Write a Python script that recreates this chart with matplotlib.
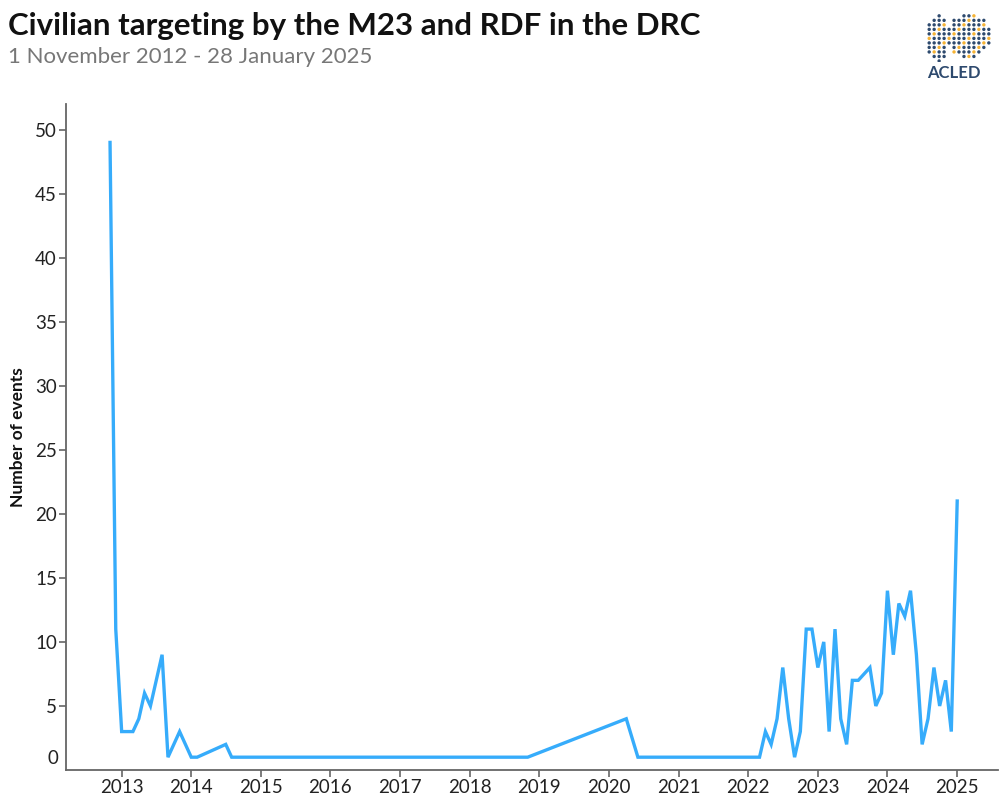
import numpy as np
import pandas as pd
import matplotlib
matplotlib.use("Agg")
import matplotlib.pyplot as plt
import matplotlib.dates as mdates
import matplotlib.transforms as mtransforms

plt.rcParams['font.family'] = ['Lato', 'DejaVu Sans']

# Monthly event counts (only months where the line changes direction)
months = [
    "2012-11", "2012-12", "2013-01", "2013-03", "2013-04", "2013-05", "2013-06",
    "2013-08", "2013-09", "2013-11", "2014-01", "2014-02", "2014-07", "2014-08",
    "2018-11", "2020-04", "2020-06", "2022-03", "2022-04", "2022-05", "2022-06",
    "2022-07", "2022-08", "2022-09", "2022-10", "2022-11", "2022-12", "2023-01",
    "2023-02", "2023-03", "2023-04", "2023-05", "2023-06", "2023-07", "2023-08",
    "2023-10", "2023-11", "2023-12", "2024-01", "2024-02", "2024-03", "2024-04",
    "2024-05", "2024-06", "2024-07", "2024-08", "2024-09", "2024-10", "2024-11",
    "2024-12", "2025-01",
]
events = [
    49, 11, 3, 3, 4, 6, 5,
    9, 1, 3, 1, 1, 2, 1,
    1, 4, 1, 1, 3, 2, 4,
    8, 4, 1, 3, 11, 11, 8,
    10, 3, 11, 4, 2, 7, 7,
    8, 5, 6, 14, 9, 13, 12,
    14, 9, 2, 4, 8, 5, 7,
    3, 21,
]
yticks = list(range(5, 55, 5))

title = "Civilian targeting by the M23 and RDF in the DRC"
subtitle = "1 November 2012 - 28 January 2025"

dates = pd.to_datetime(months)

fig = plt.figure(figsize=(10, 8), dpi=100)
ax = fig.add_axes([66 / 1000, 1 - 770 / 800, (998 - 66) / 1000, (770 - 104) / 800])

ax.plot(dates, events, color="#36acfb", linewidth=2.4, solid_joinstyle="miter")

ax.set_xlim(pd.Timestamp("2012-03-15"), pd.Timestamp("2025-08-03"))
ax.set_ylim(0, 52)

ax.xaxis.set_major_locator(mdates.YearLocator())
ax.xaxis.set_major_formatter(mdates.DateFormatter("%Y"))
ax.set_yticks(yticks)
ax.set_yticklabels([str(v) for v in yticks])

# bottom "0" label sits just above the axis line, without a tick
trans = mtransforms.blended_transform_factory(ax.transAxes, ax.transData)
ax.text(-8 / 932, 0.9, "0", transform=trans, ha="right", va="center",
        fontsize=13.5, color="#222222")

for side in ["top", "right"]:
    ax.spines[side].set_visible(False)
for side in ["left", "bottom"]:
    ax.spines[side].set_color("#666666")
    ax.spines[side].set_linewidth(1.3)

ax.tick_params(axis="both", colors="#666666", length=5, width=1.2,
               labelsize=13.5, labelcolor="#222222", pad=1.5)

ax.set_ylabel("Number of events", fontsize=12.5, fontweight="bold", color="#111111")
ax.yaxis.set_label_coords(-0.043, 0.5)

fig.text(0.008, 0.968, title, fontsize=22.5, fontweight="bold", color="#111111",
         ha="left", va="center")
fig.text(0.008, 0.929, subtitle, fontsize=16, color="#777777", ha="left", va="center")

# small ACLED logo (dot globe + wordmark)
lax = fig.add_axes([0.922, 0.922, 0.074, 0.06])
lax.set_xlim(0, 1)
lax.set_ylim(0, 1)
lax.axis("off")
gx, gy = np.meshgrid(np.linspace(0.03, 0.97, 15), np.linspace(0.03, 0.97, 11))
gx, gy = gx.ravel(), gy.ravel()
left = ((gx - 0.2) / 0.16) ** 2 + ((gy - 0.5) / 0.48) ** 2 < 1
right = ((gx - 0.63) / 0.3) ** 2 + ((gy - 0.55) / 0.45) ** 2 < 1
mask = left | right
cols = np.where((np.arange(gx.size) % 4) == 0, "#f5b335", "#2e4a6e")
lax.scatter(gx[mask], gy[mask], s=6, c=cols[mask], linewidths=0)
fig.text(0.954, 0.909, "ACLED", fontsize=12, fontweight="bold", color="#2e4a6e",
         ha="center", va="center")

fig.savefig("out.png", dpi=100)
